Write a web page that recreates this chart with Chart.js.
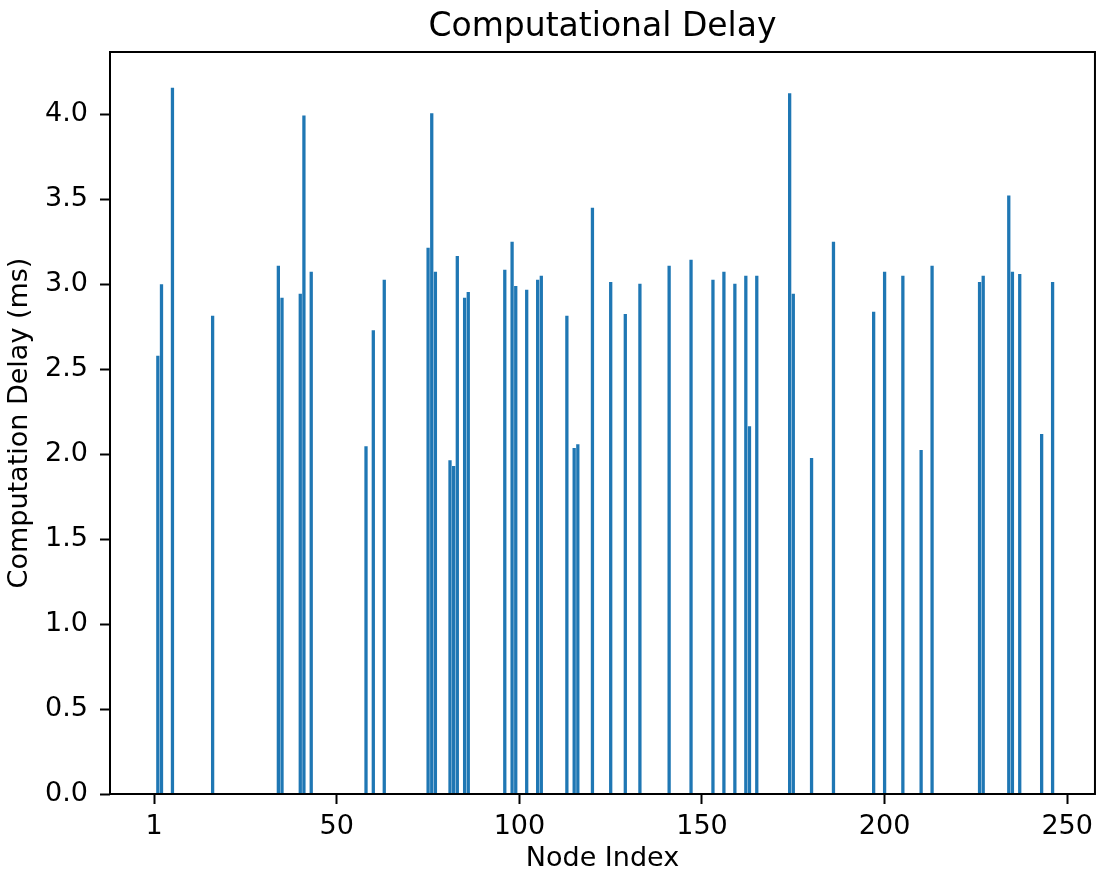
<!DOCTYPE html>
<html>
<head>
<meta charset="utf-8">
<title>Computational Delay</title>
<script src="https://cdn.jsdelivr.net/npm/chart.js@4.4.1/dist/chart.umd.min.js"></script>
<style>
    html, body { margin: 0; padding: 0; background: #fff; }
    #wrap { width: 1100px; height: 877px; }
</style>
</head>
<body>
<div id="wrap"><canvas id="delayChart" width="1100" height="877"></canvas></div>
<script>
// Nodes that reported a computation delay
const nodeIndex = [1, 2, 5, 16, 34, 35, 40, 41, 43, 58, 60, 63, 75, 76, 77, 81, 82, 83, 85, 86,
    96, 98, 99, 102, 105, 106, 113, 115, 116, 120, 125, 129, 133, 141, 147, 153, 156, 159,
    162, 163, 165, 174, 175, 180, 186, 197, 200, 205, 210, 213, 226, 227, 234, 235, 237, 243, 246];

// Delay per node (ms), same order as nodeIndex
const delayMs = [2.58, 3.00, 4.157, 2.814, 3.109, 2.92, 2.944, 3.994, 3.073, 2.046, 2.73, 3.026,
    3.215, 4.006, 3.073, 1.965, 1.93, 3.167, 2.92, 2.955, 3.085, 3.25, 2.99, 2.967, 3.026, 3.05,
    2.814, 2.036, 2.059, 3.45, 3.014, 2.825, 3.003, 3.109, 3.144, 3.026, 3.073, 3.003, 3.05,
    2.164, 3.05, 4.124, 2.944, 1.977, 3.25, 2.838, 3.073, 3.05, 2.025, 3.109, 3.014, 3.05,
    3.523, 3.073, 3.061, 2.119, 3.014];

// Axis ticks
const xTickValues = [0, 50, 100, 150, 200, 250];
const xTickLabels = ['1', '50', '100', '150', '200', '250'];
const yTickValues = [0, 0.5, 1, 1.5, 2, 2.5, 3, 3.5, 4];

const FONT = 'DejaVu Sans';

// Box around the plot area, drawn on top of the bars
const framePlugin = {
    id: 'frame',
    afterDatasetsDraw(chart) {
        const { ctx, chartArea: a } = chart;
        ctx.save();
        ctx.strokeStyle = '#000';
        ctx.lineWidth = 2;
        ctx.strokeRect(a.left, a.top, a.right - a.left, a.bottom - a.top);
        ctx.restore();
    }
};

// Title centred over the plot area (not the whole canvas)
const titlePlugin = {
    id: 'plotTitle',
    afterDraw(chart) {
        const { ctx, chartArea: a } = chart;
        ctx.save();
        ctx.font = '33px "' + FONT + '"';
        ctx.fillStyle = '#000';
        ctx.textAlign = 'center';
        ctx.textBaseline = 'alphabetic';
        ctx.fillText('Computational Delay', (a.left + a.right) / 2, a.top - 16);
        ctx.restore();
    }
};

function axisGrid() {
    return {
        display: true,
        offset: false,
        drawOnChartArea: false,
        drawTicks: true,
        tickLength: 10,
        tickColor: '#000',
        tickWidth: 2
    };
}

function initChart() {
    const ctx = document.getElementById('delayChart').getContext('2d');
    const points = nodeIndex.map((n, i) => ({ x: n, y: delayMs[i] }));

    new Chart(ctx, {
        type: 'bar',
        data: {
            datasets: [{
                data: points,
                backgroundColor: '#1f77b4',
                borderWidth: 0,
                barPercentage: 1,
                categoryPercentage: 0.9
            }]
        },
        options: {
            responsive: false,
            animation: false,
            devicePixelRatio: 1,
            layout: { padding: { top: 52, right: 1, left: 0, bottom: 0 } },
            plugins: {
                legend: { display: false },
                tooltip: { enabled: false },
                title: { display: false }
            },
            scales: {
                x: {
                    type: 'linear',
                    min: -12.1,
                    max: 257.6,
                    offset: false,
                    grid: axisGrid(),
                    border: { display: false },
                    ticks: {
                        autoSkip: false,
                        maxRotation: 0,
                        padding: 7,
                        color: '#000',
                        font: { family: FONT, size: 27 },
                        callback: value => xTickLabels[xTickValues.indexOf(value)]
                    },
                    title: {
                        display: true,
                        text: 'Node Index',
                        color: '#000',
                        font: { family: FONT, size: 27 },
                        padding: { top: 0, bottom: 2 }
                    },
                    afterBuildTicks: scale => { scale.ticks = xTickValues.map(v => ({ value: v })); },
                    afterFit: scale => { scale.height = 83; }
                },
                y: {
                    type: 'linear',
                    min: 0,
                    max: 4.367,
                    grid: axisGrid(),
                    border: { display: false },
                    ticks: {
                        padding: 12,
                        color: '#000',
                        font: { family: FONT, size: 27 },
                        callback: value => value.toFixed(1)
                    },
                    title: {
                        display: true,
                        text: 'Computation Delay (ms)',
                        color: '#000',
                        font: { family: FONT, size: 27 },
                        padding: { top: 4, bottom: 0 }
                    },
                    afterBuildTicks: scale => { scale.ticks = yTickValues.map(v => ({ value: v })); },
                    afterFit: scale => { scale.width = 110; }
                }
            }
        },
        plugins: [framePlugin, titlePlugin]
    });
}

document.addEventListener('DOMContentLoaded', initChart);
</script>
</body>
</html>
